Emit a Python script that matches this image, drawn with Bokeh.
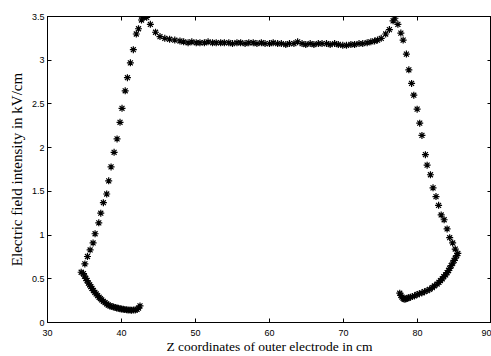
from bokeh.plotting import figure
from bokeh.models import LinearAxis, FixedTicker, Range1d
from bokeh.embed import file_html
from bokeh.resources import INLINE

# ---- data ----
upper_x = [34.55, 35.05, 35.4, 35.76, 36.16, 36.43, 36.93, 37.2, 37.55, 38.0, 38.27, 38.59,
           39.0, 39.4, 39.8, 40.07, 40.5, 40.8, 41.2, 41.6, 42.0, 42.3, 42.7, 43.0, 43.4,
           43.9, 44.6, 45.2, 45.85, 46.5, 47.2, 47.9,
           48.4, 49.0, 49.5, 50.1, 50.6, 51.2, 51.7, 52.3, 52.8, 53.4, 53.9, 54.5, 55.0, 55.6,
           56.1, 56.7, 57.2, 57.8, 58.3, 58.9, 59.4, 60.0, 60.5, 61.1, 61.6, 62.2, 62.7, 63.3,
           63.8, 64.4, 64.9, 65.5, 66.0, 66.6, 67.1, 67.7, 68.2, 68.8, 69.3, 69.9, 70.4, 71.0,
           71.5, 72.1, 72.6, 73.2, 73.7,
           74.2, 74.6, 75.1, 75.7, 76.2, 76.7, 76.95, 77.35, 77.75, 78.06, 78.5, 78.83, 79.2,
           79.5, 79.95, 80.3, 80.6, 81.07, 81.3, 81.75, 82.1, 82.5, 82.85, 83.2, 83.6, 84.0,
           84.35, 84.75, 85.1, 85.45]
upper_y = [0.575, 0.67, 0.755, 0.83, 0.91, 1.015, 1.14, 1.25, 1.37, 1.47, 1.62, 1.78,
           1.947, 2.10, 2.29, 2.45, 2.65, 2.80, 2.97, 3.12, 3.30, 3.36, 3.46, 3.49, 3.49,
           3.41, 3.32, 3.27, 3.25, 3.24, 3.23, 3.22,
           3.21, 3.20, 3.21, 3.20, 3.20, 3.20, 3.21, 3.20, 3.20, 3.20, 3.20, 3.20, 3.19, 3.20,
           3.20, 3.19, 3.20, 3.20, 3.19, 3.20, 3.19, 3.19, 3.20, 3.19, 3.19, 3.18, 3.19, 3.19,
           3.21, 3.19, 3.18, 3.19, 3.18, 3.19, 3.19, 3.19, 3.18, 3.19, 3.18, 3.17, 3.17, 3.18,
           3.18, 3.19, 3.19, 3.20, 3.21,
           3.22, 3.23, 3.25, 3.30, 3.35, 3.45, 3.48, 3.41, 3.31, 3.23, 3.07, 2.89, 2.735,
           2.60, 2.44, 2.28, 2.14, 1.92, 1.80, 1.69, 1.54, 1.44, 1.34, 1.23, 1.175, 1.07,
           0.97, 0.91, 0.84, 0.79]

left_lower_x = [34.86, 35.0, 35.18, 35.35, 35.53, 35.7, 35.85, 36.0, 36.2, 36.4, 36.57, 36.77,
                36.97, 37.15, 37.33, 37.55, 37.78, 38.0, 38.2, 38.45, 38.7, 38.9, 39.15, 39.35,
                39.57, 39.8, 40.0, 40.24, 40.45, 40.7, 40.9, 41.15, 41.35, 41.6, 41.85, 42.1,
                42.3, 42.5]
left_lower_y = [0.56, 0.53, 0.505, 0.48, 0.45, 0.43, 0.41, 0.39, 0.365, 0.345, 0.327, 0.307,
                0.289, 0.273, 0.258, 0.242, 0.227, 0.213, 0.20, 0.19, 0.183, 0.178, 0.172, 0.167,
                0.163, 0.158, 0.154, 0.151, 0.148, 0.145, 0.143, 0.142, 0.141, 0.142, 0.144, 0.15,
                0.165, 0.19]

right_lower_x = [77.6, 77.75, 77.9, 78.05, 78.2, 78.4, 78.6, 78.8, 79.05, 79.3, 79.6, 79.95,
                 80.25, 80.6, 80.95, 81.3, 81.65, 82.0, 82.3, 82.65, 82.9, 83.1, 83.35, 83.55,
                 83.8, 84.0, 84.2, 84.35, 84.55, 84.75, 84.95, 85.1, 85.3]
right_lower_y = [0.335, 0.31, 0.29, 0.275, 0.266, 0.268, 0.277, 0.283, 0.29, 0.296, 0.305, 0.32,
                 0.33, 0.34, 0.352, 0.365, 0.38, 0.40, 0.42, 0.44, 0.46, 0.48, 0.50, 0.525,
                 0.545, 0.57, 0.595, 0.62, 0.65, 0.68, 0.71, 0.735, 0.765]

x_ticks = [30, 40, 50, 60, 70, 80, 90]
y_ticks = [0, 0.5, 1, 1.5, 2, 2.5, 3, 3.5]
y_tick_labels = ["0", "0.5", "1", "1.5", "2", "2.5", "3", "3.5"]
x_label = "Z coordinates of outer electrode in cm"
y_label = "Electric field intensity in kV/cm"

# ---- figure ----
p = figure(width=491, height=356, output_backend="svg", toolbar_location=None,
           x_range=Range1d(30, 90), y_range=Range1d(0, 3.5),
           min_border_left=47, min_border_right=0, min_border_top=16, min_border_bottom=34)
p.background_fill_color = "white"
p.border_fill_color = "white"
p.outline_line_color = "black"
p.outline_line_width = 1
p.xgrid.visible = False
p.ygrid.visible = False

tick_font = "Liberation Sans"
label_font = "Liberation Serif"

for ax in (p.xaxis[0], p.yaxis[0]):
    ax.major_tick_in = 4
    ax.major_tick_out = 0
    ax.minor_tick_line_color = None
    ax.axis_line_color = "black"
    ax.major_tick_line_color = "black"
    ax.major_label_text_font = tick_font
    ax.major_label_text_font_size = "9px"
    ax.major_label_text_color = "black"
    ax.axis_label_text_font = label_font
    ax.axis_label_text_font_style = "normal"
    ax.axis_label_text_color = "black"

p.xaxis[0].axis_label_text_font_size = "13.5px"
p.yaxis[0].axis_label_text_font_size = "15px"
p.xaxis[0].ticker = FixedTicker(ticks=x_ticks)
p.yaxis[0].ticker = FixedTicker(ticks=y_ticks)
p.yaxis[0].major_label_overrides = {t: l for t, l in zip(y_ticks, y_tick_labels)}
p.xaxis[0].axis_label = x_label
p.yaxis[0].axis_label = y_label
p.xaxis[0].major_label_standoff = 7
p.xaxis[0].axis_label_standoff = 0
p.yaxis[0].major_label_standoff = 3
p.yaxis[0].axis_label_standoff = 4

# mirror ticks on top and right (MATLAB box style), without labels
top = LinearAxis(ticker=FixedTicker(ticks=x_ticks),
                 major_label_overrides={t: "" for t in x_ticks})
right = LinearAxis(ticker=FixedTicker(ticks=y_ticks),
                   major_label_overrides={t: "" for t in y_ticks})
for ax in (top, right):
    ax.major_tick_in = 4
    ax.major_tick_out = 0
    ax.minor_tick_line_color = None
    ax.major_label_standoff = 0
    ax.major_label_text_color = None
    ax.axis_line_color = "black"
p.add_layout(top, "above")
p.add_layout(right, "right")

style = dict(marker="asterisk", size=7, line_color="black", line_width=1.2)
p.scatter(x=upper_x, y=upper_y, **style)
p.scatter(x=left_lower_x, y=left_lower_y, **style)
p.scatter(x=right_lower_x, y=right_lower_y, **style)

open("out.html", "w").write(file_html(p, INLINE))
